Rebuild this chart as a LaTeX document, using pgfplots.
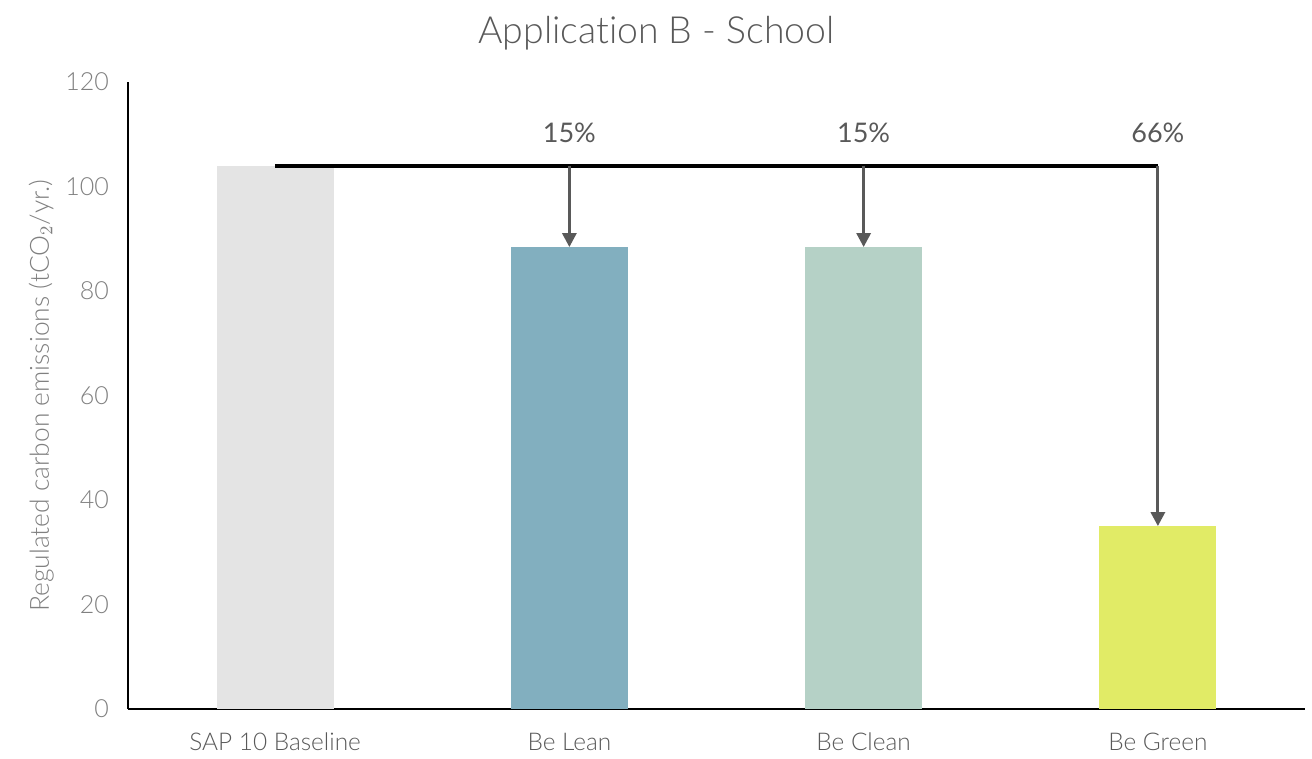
\documentclass[border=0pt]{standalone}
\usepackage{fontspec}
\setmainfont{Lato}[Ligatures=NoCommon]
\newfontfamily\latolight{Lato Light}[Ligatures=NoCommon]
\usepackage{pgfplots}
\pgfplotsset{compat=1.18}
\usetikzlibrary{arrows.meta,calc}

\definecolor{baseGrey}{HTML}{E4E4E4}
\definecolor{leanBlue}{HTML}{82AFBF}
\definecolor{cleanGreen}{HTML}{B5D1C6}
\definecolor{greenYellow}{HTML}{E1EB66}
\definecolor{arrowGrey}{HTML}{595959}
\definecolor{tickGrey}{HTML}{808080}
\definecolor{textGrey}{HTML}{595959}

\tikzset{reduction/.style={arrowGrey, line width=1.5pt, -{Triangle[width=7pt,length=7pt]}},
         pct/.style={font=\fontsize{13.5}{15}\selectfont, text=textGrey}}

\begin{document}
\begin{tikzpicture}
\begin{axis}[
  name=ax,
  at={(0,0)}, anchor=south west,
  scale only axis,
  width=588.5pt, height=313.5pt,
  xmin=-0.5, xmax=3.5,
  ymin=0, ymax=120,
  ytick={0,20,...,120},
  xtick={0,1,2,3},
  xticklabels={SAP 10 Baseline, Be Lean, Be Clean, Be Green},
  major tick length=0pt,
  axis x line*=bottom,
  axis y line*=left,
  axis line style={black, line width=1.2pt},
  every axis x line/.append style={-},
  every axis y line/.append style={-},
  /pgf/number format/assume math mode=true,
  yticklabel style={font=\latolight\fontsize{12.5}{14}\selectfont, text=tickGrey, xshift=-6pt},
  xticklabel style={font=\latolight\fontsize{12.2}{14}\selectfont, text=textGrey, yshift=-8.5pt},
  ylabel={Regulated carbon emissions (tCO$_2$/yr.)},
  ylabel style={font=\latolight\fontsize{13.2}{15}\selectfont, text=tickGrey, yshift=1pt},
  ylabel shift=-2pt,
  title={Application B - School},
  title style={font=\latolight\fontsize{18.7}{21}\selectfont, text=textGrey, yshift=6.5pt, xshift=-30pt},
  ybar, bar width=58.5pt, bar shift=0pt,
  clip=false,
]
\addplot[fill=baseGrey, draw=none] coordinates {(0,104)};
\addplot[fill=leanBlue, draw=none] coordinates {(1,88.4)};
\addplot[fill=cleanGreen, draw=none] coordinates {(2,88.4)};
\addplot[fill=greenYellow, draw=none] coordinates {(3,35)};

% reduction arrows from the baseline level
\draw[black, line width=2pt] (axis cs:0,104) -- (axis cs:3,104);
\draw[reduction] (axis cs:1,104) -- (axis cs:1,88.4);
\draw[reduction] (axis cs:2,104) -- (axis cs:2,88.4);
\draw[reduction] (axis cs:3,104) -- (axis cs:3,35);
\node[pct] at (axis cs:1,110.2) {15\%};
\node[pct] at (axis cs:2,110.2) {15\%};
\node[pct] at (axis cs:3,110.2) {66\%};
\end{axis}
\pgfresetboundingbox
\path[use as bounding box] ($(ax.south west)+(-64pt,-24.5pt)$) rectangle ($(ax.north east)+(3.5pt,41pt)$);
\end{tikzpicture}
\end{document}
